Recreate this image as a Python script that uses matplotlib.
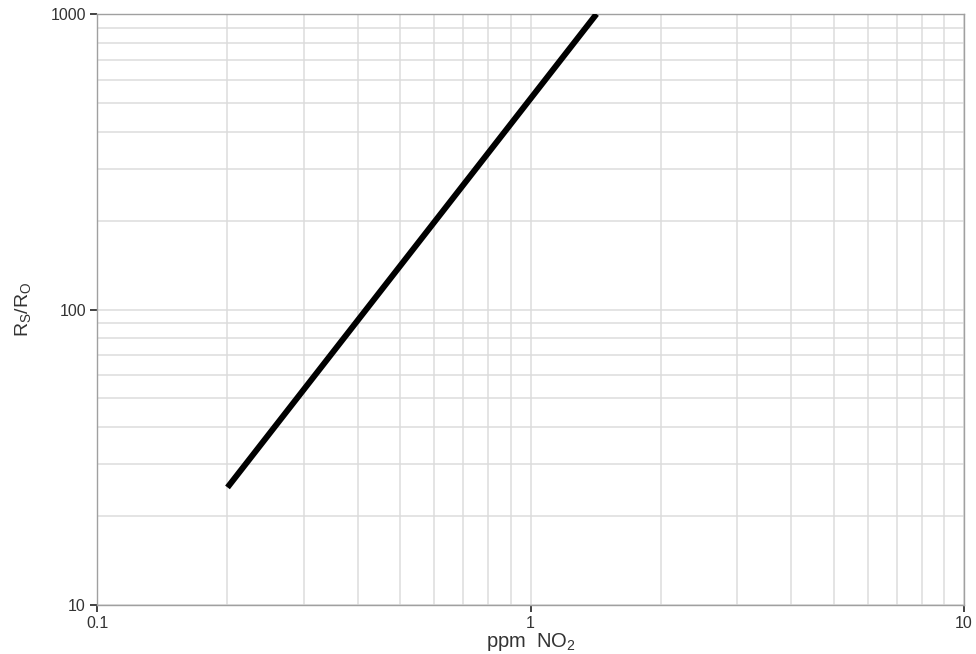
import numpy as np
import matplotlib as mpl
import matplotlib.pyplot as plt
from matplotlib.ticker import FixedLocator, FixedFormatter, LogLocator, NullFormatter

mpl.use('Agg')

mpl.rcParams['font.family'] = ['Liberation Sans', 'DejaVu Sans']
mpl.rcParams['mathtext.fontset'] = 'custom'
mpl.rcParams['mathtext.rm'] = 'Liberation Sans'

# sensitivity curve
ppm_no2 = [0.2, 1.42]
rs_r0 = [25, 1000]

x_ticks = [0.1, 1, 10]
x_labels = ['0.1', '1', '10']
y_ticks = [10, 100, 1000]
y_labels = ['10', '100', '1000']

fig = plt.figure(figsize=(9.76, 6.54), dpi=100)
ax = fig.add_axes([97 / 976, 1 - 605 / 654, 867 / 976, 591 / 654])

ax.plot(ppm_no2, rs_r0, color='black', lw=4.3, solid_capstyle='butt', zorder=3)

ax.set_xscale('log')
ax.set_yscale('log')
ax.set_xlim(0.1, 10)
ax.set_ylim(10, 1000)

ax.xaxis.set_major_locator(FixedLocator(x_ticks))
ax.xaxis.set_major_formatter(FixedFormatter(x_labels))
ax.yaxis.set_major_locator(FixedLocator(y_ticks))
ax.yaxis.set_major_formatter(FixedFormatter(y_labels))
ax.xaxis.set_minor_locator(LogLocator(base=10, subs=np.arange(2, 10)))
ax.yaxis.set_minor_locator(LogLocator(base=10, subs=np.arange(2, 10)))
ax.xaxis.set_minor_formatter(NullFormatter())
ax.yaxis.set_minor_formatter(NullFormatter())

ax.grid(True, which='both', color='#dcdcdc', lw=1.1, zorder=0)
ax.set_axisbelow(True)

ax.tick_params(which='major', direction='out', length=5, width=1.2, color='#222222',
               labelsize=11.5, labelcolor='#333333', pad=3)
ax.tick_params(which='minor', length=0)

for side in ['left', 'bottom', 'top', 'right']:
    ax.spines[side].set_color('#a0a0a0')
    ax.spines[side].set_linewidth(1.0)

ax.set_xlabel('ppm  NO$_2$', fontsize=14.5, color='#333333', labelpad=0)
ax.set_ylabel(r'R$_\mathrm{S}$/R$_\mathrm{O}$', fontsize=14, color='#333333', labelpad=12)

fig.savefig('out.png', dpi=100)
